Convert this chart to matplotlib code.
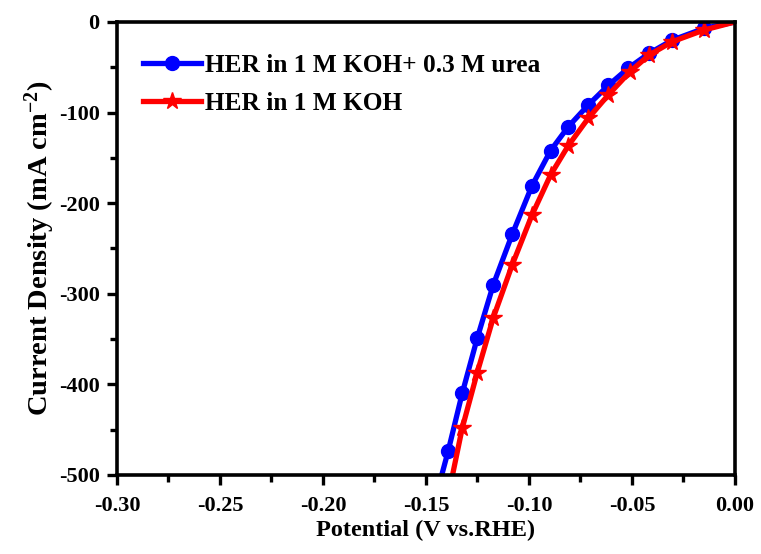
import matplotlib.pyplot as plt
from matplotlib.ticker import MultipleLocator

plt.rcParams["font.family"] = ["Liberation Serif", "DejaVu Serif"]
plt.rcParams["font.weight"] = "bold"
plt.rcParams["axes.unicode_minus"] = False
plt.rcParams["mathtext.fontset"] = "custom"
plt.rcParams["mathtext.rm"] = "Liberation Serif:bold"
plt.rcParams["mathtext.default"] = "rm"

# values (V vs RHE, mA cm^-2)
urea_potential = [0.0, -0.0149, -0.0304, -0.0416, -0.0518, -0.0615, -0.0712, -0.0809,
                  -0.0895, -0.0985, -0.1081, -0.1173, -0.1251, -0.1324, -0.1392, -0.1435]
urea_current = [0, -7, -20, -34.5, -51, -70, -91.6, -115.6,
                -142, -180.7, -234.3, -290, -349, -410, -473.5, -510]

koh_potential = [0.0, -0.0149, -0.0304, -0.0416, -0.0509, -0.0615, -0.0712, -0.0809,
                 -0.0895, -0.0985, -0.1081, -0.1173, -0.1251, -0.1324, -0.1380]
koh_current = [0, -8.8, -21.7, -36.4, -54.8, -80.6, -106.3, -136.5,
               -168.9, -213, -268, -326.4, -387, -448.5, -510]

fig = plt.figure(figsize=(7.61, 5.54), dpi=100)
ax = fig.add_axes([0.1537, 0.1426, 0.812, 0.8177])

ax.plot(urea_potential, urea_current, color="#0000ff", lw=3.8, marker="o", ms=10,
        markevery=list(range(1, len(urea_potential) - 1)),
        label="HER in 1 M KOH+ 0.3 M urea")
ax.plot(koh_potential, koh_current, color="#ff0000", lw=3.8, marker="*", ms=13,
        markevery=list(range(1, len(koh_potential) - 1)),
        label="HER in 1 M KOH")

ax.set_xlim(-0.30, 0.0)
ax.set_ylim(-500, 0)
ax.xaxis.set_major_locator(MultipleLocator(0.05))
ax.xaxis.set_minor_locator(MultipleLocator(0.025))
ax.yaxis.set_major_locator(MultipleLocator(100))
ax.yaxis.set_minor_locator(MultipleLocator(50))
ax.xaxis.set_major_formatter(plt.FuncFormatter(lambda v, p: f"{v:.2f}"))

ax.tick_params(which="both", direction="out", width=2.4, labelsize=16, top=False, right=False)
ax.tick_params(which="major", length=7.5)
ax.tick_params(which="minor", length=5)
ax.tick_params(axis="x", which="major", pad=7.5)
ax.tick_params(axis="y", which="major", pad=5)
for s in ax.spines.values():
    s.set_linewidth(2.6)

ax.set_xlabel("Potential (V vs.RHE)", fontsize=17.5, fontweight="bold", labelpad=3)
ax.set_ylabel("Current Density (mA cm$^{-2}$)", fontsize=20.5, fontweight="bold", labelpad=1)

leg = ax.legend(loc="upper left", frameon=False, fontsize=18.3, handlelength=2.3,
                handletextpad=0.16, labelspacing=0.6, bbox_to_anchor=(0.005, 0.98))

fig.savefig("out.png", dpi=100)
